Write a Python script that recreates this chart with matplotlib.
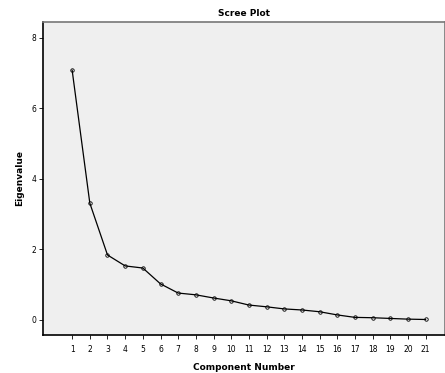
import numpy as np
import matplotlib as mpl
mpl.use('Agg')
import matplotlib.pyplot as plt
mpl.rcParams.update({'font.size': 6, 'font.family': 'DejaVu Sans'})

# eigenvalues per component
components = list(range(1, 22))
eigenvalues = [7.08, 3.31, 1.84, 1.53, 1.47, 1.02, 0.76, 0.71, 0.62, 0.54,
               0.42, 0.37, 0.31, 0.28, 0.23, 0.14, 0.07, 0.06, 0.04, 0.02, 0.01]
yticks = [0, 2, 4, 6, 8]

fig = plt.figure(figsize=(4.45, 3.73), dpi=100)
ax = fig.add_axes([43/445, 1 - 335/373, 402/445, 313/373])
ax.set_facecolor('#efefef')

ax.plot(components, eigenvalues, color='black', lw=0.9,
        marker='o', ms=2.5, mfc='none', mec='black', mew=0.6)

ax.set_xlim(-0.65, 22.1)
ax.set_ylim(-0.43, 8.45)
ax.set_xticks(components)
ax.set_yticks(yticks)
ax.tick_params(length=3, width=0.6, labelsize=5.5, pad=2)
ax.tick_params(axis='x', pad=4)

for side in ['top', 'right']:
    ax.spines[side].set_color('#777777')
    ax.spines[side].set_linewidth(1.2)
for side in ['left', 'bottom']:
    ax.spines[side].set_linewidth(1.2)

ax.set_title('Scree Plot', fontsize=6.5, fontweight='bold', pad=4)
ax.set_xlabel('Component Number', fontsize=6.5, fontweight='bold', labelpad=7)
ax.set_ylabel('Eigenvalue', fontsize=6.5, fontweight='bold', labelpad=5)

fig.savefig('out.png', dpi=100)
